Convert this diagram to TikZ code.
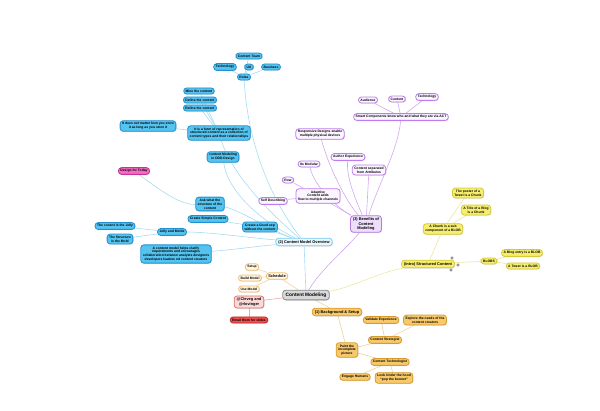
\documentclass[tikz,border=0pt]{standalone}
\usepackage{fontspec}
\setmainfont{Liberation Sans}
\usetikzlibrary{shadows,backgrounds}
\definecolor{bfill}{HTML}{55C3F0}
\definecolor{bdraw}{HTML}{2090D0}
\definecolor{bedge}{HTML}{A6DCF4}
\definecolor{lbfill}{HTML}{E8F7FD}
\definecolor{lbdraw}{HTML}{7CCBF0}
\definecolor{pkfill}{HTML}{F26DC2}
\definecolor{pkdraw}{HTML}{C8329A}
\definecolor{pfill}{HTML}{FBF5FF}
\definecolor{pdraw}{HTML}{BE7CF0}
\definecolor{pedge}{HTML}{D4A6F2}
\definecolor{ppfill}{HTML}{EEDDFB}
\definecolor{ppdraw}{HTML}{B07CE0}
\definecolor{yfill}{HTML}{F6EE6E}
\definecolor{ydraw}{HTML}{D6C83A}
\definecolor{yedge}{HTML}{EEE6A0}
\definecolor{ofill}{HTML}{F7C96A}
\definecolor{odraw}{HTML}{D99B2B}
\definecolor{oedge}{HTML}{EED29A}
\definecolor{lofill}{HTML}{FFF6E6}
\definecolor{lodraw}{HTML}{F0C070}
\definecolor{gfill}{HTML}{D9D9D9}
\definecolor{gdraw}{HTML}{8C8C8C}
\definecolor{rlfill}{HTML}{FCD9D9}
\definecolor{rldraw}{HTML}{E07070}
\definecolor{rfill}{HTML}{EE5050}
\definecolor{rdraw}{HTML}{C02828}
\definecolor{redge}{HTML}{F0A8A8}
\tikzset{
  base/.style={rounded corners=3pt, line width=0.8pt, inner xsep=2pt, inner ysep=1.8pt,
    align=center, font=\fontsize{3.35}{3.85}\selectfont\bfseries,
    drop shadow={opacity=0.25, shadow xshift=0.7pt, shadow yshift=-0.7pt}},
  lvl/.style={base, font=\fontsize{3.9}{4.5}\selectfont\bfseries, inner xsep=2.5pt, inner ysep=2pt},
  bnode/.style={base, fill=bfill, draw=bdraw},
  lbnode/.style={lvl, fill=lbfill, draw=lbdraw},
  pknode/.style={base, fill=pkfill, draw=pkdraw},
  pnode/.style={base, fill=pfill, draw=pdraw},
  ppnode/.style={lvl, fill=ppfill, draw=ppdraw},
  ynode/.style={base, fill=yfill, draw=ydraw},
  yynode/.style={lvl, fill=yfill, draw=ydraw},
  onode/.style={base, fill=ofill, draw=odraw},
  oonode/.style={lvl, fill=ofill, draw=odraw},
  lonode/.style={base, fill=lofill, draw=lodraw},
  gnode/.style={lvl, font=\fontsize{4.8}{5.5}\selectfont\bfseries, inner xsep=3pt, inner ysep=2.6pt, fill=gfill, draw=gdraw},
  rlnode/.style={lvl, fill=rlfill, draw=rldraw},
  rnode/.style={base, fill=rfill, draw=rdraw},
  be/.style={draw=bedge, line width=0.6pt},
  pe/.style={draw=pedge, line width=0.6pt},
  ye/.style={draw=yedge, line width=0.6pt},
  oe/.style={draw=oedge, line width=0.6pt},
  re/.style={draw=redge, line width=0.6pt},
  handle/.style={circle, fill=gray!70, draw=gray, line width=0.3pt, inner sep=0pt, minimum size=2.6pt}
}
\begin{document}
\begin{tikzpicture}[x=1pt,y=-1pt]
\useasboundingbox (0,0) rectangle (600,410);
% blue branch
\node[bnode] (team) at (249,56) {Content Team};
\node[bnode] (techa) at (225,67) {Technology};
\node[bnode] (ux) at (249,67) {UX};
\node[bnode] (bus) at (271,67) {Business};
\node[bnode] (roles) at (244,77) {Roles};
\node[bnode] (mine) at (199,91) {Mine the content};
\node[bnode] (define) at (200,100) {Define the content};
\node[bnode] (refine) at (200,108) {Refine the content};
\node[bnode] (form) at (219,133) {It is a form of representation of\\structured content as a collection of\\content types and their relationships};
\node[bnode] (store) at (148,126) {It does not matter how you store\\it as long as you store it};
\node[bnode] (ddd) at (223,157) {content Modeling\\in DDD Design};
\node[pknode] (today) at (134,171) {Design for Today};
\node[bnode] (ask) at (210,204) {Ask what the\\structure of the\\content};
\node[bnode] (simple) at (208,219) {Create Simple Content};
\node[bnode] (goodexp) at (260,227) {Create a Good exp\\without the content};
\node[lbnode] (two) at (304,242) {(2) Content Model Overview};
\node[bnode] (jellyc) at (115,226) {The conent is the Jelly};
\node[bnode] (mold) at (120,239) {The Structure\\is the Mold};
\node[bnode] (jelly) at (172,232) {Jelly and Molds};
\node[bnode] (helps) at (176,254) {A content model helps clarify\\requirements and encourages\\collaboration between analysts designers\\developers leaders nd content creators};
% purple branch
\node[pnode] (aud) at (368,100) {Audience};
\node[pnode] (cont) at (397,99) {Content};
\node[pnode] (techb) at (427,97) {Technology};
\node[pnode] (smart) at (401,117) {Smart Components know who and what they are via ACT};
\node[pnode] (resp) at (320,134) {Responsive Designs enable\\multiple physical devices};
\node[pnode] (author) at (348,157) {Author Experience};
\node[pnode] (modular) at (309,164) {Its Modular};
\node[pnode] (sep) at (369,170) {Content separated\\from Attributes};
\node[pnode] (row) at (288,180) {Row};
\node[pnode] (selfd) at (273,201) {Self Describing};
\node[pnode] (adapt) at (318,196) {Adaptive\\Content adds\\flow to multiple channels};
\node[ppnode] (three) at (366,224) {(3) Benefits of\\Content\\Modeling};
% yellow branch
\node[ynode] (poster) at (468,193) {The poster of a\\Tweet is a Chunk};
\node[ynode] (title) at (476,210) {A Title of a Blog\\is a Chunk};
\node[ynode] (chunk) at (443,229) {A Chunk is a sub\\component of a BLOB};
\node[yynode] (intro) at (428,264) {(Intro) Structured Content};
\node[ynode] (blobs) at (489,261) {BLOBS};
\node[ynode] (blog) at (522,253) {A Blog entry is a BLOB};
\node[ynode] (tweet) at (523,266) {A Tweet is a BLOB};
\node[handle] (h1) at (452,258) {};
\node[handle] (h2) at (458,265) {};
\node[handle] (h3) at (451,270) {};
% orange / centre
\node[lonode] (setup) at (252,267) {Setup};
\node[lonode] (build) at (250,278) {Build Model};
\node[lonode] (use) at (249,289) {Use Model};
\node[lonode, font=\fontsize{3.9}{4.5}\selectfont\bfseries] (sched) at (277,276) {Schedule};
\node[gnode] (center) at (306,295) {Content Modeling};
\node[rlnode] (cleveg) at (249,302) {@Cleveg and\\@rlovinger};
\node[rnode] (email) at (249,320) {Email them for slides};
\node[oonode] (one) at (337,312) {(1) Background \& Setup};
\node[onode] (valid) at (381,320) {Validate Experience};
\node[onode] (explore) at (425,320) {Explore the needs of the\\content creators};
\node[onode] (strat) at (385,340) {Content Strategist};
\node[onode] (paint) at (347,350) {Paint the\\incomplete\\picture};
\node[onode] (techn) at (390,362) {Content Technologist};
\node[onode] (engage) at (355,377) {Engage Humans};
\node[onode] (look) at (394,378) {Look Under the hood\\``pop the bonnet''};
\begin{scope}[on background layer]
% blue edges
\draw[be] (center) -- (two);
\draw[be] (two) .. controls (275,205) and (248,150) .. (roles);
\draw[be] (two) .. controls (272,215) and (232,175) .. (form);
\draw[be] (two) .. controls (268,225) and (228,195) .. (ddd);
\draw[be] (two) .. controls (270,230) and (240,210) .. (ask);
\draw[be] (two) -- (goodexp);
\draw[be] (goodexp) -- (simple);
\draw[be] (two) .. controls (250,238) and (210,232) .. (jelly);
\draw[be] (two) .. controls (260,246) and (230,250) .. (helps);
\draw[be] (today) .. controls (160,190) and (180,205) .. (ask);
\draw[be] (jelly) -- (jellyc);
\draw[be] (jelly) -- (mold);
\draw[be] (roles) -- (team);
\draw[be] (roles) -- (techa);
\draw[be] (roles) -- (ux);
\draw[be] (roles) -- (bus);
\draw[be] (form) -- (mine);
\draw[be] (form) -- (define);
\draw[be] (form) -- (refine);
\draw[be] (form) -- (store);
% purple edges
\draw[pe] (center) .. controls (320,270) and (350,245) .. (three);
\draw[pe] (three) .. controls (378,185) and (398,150) .. (smart);
\draw[pe] (three) .. controls (345,200) and (328,165) .. (resp);
\draw[pe] (three) .. controls (356,200) and (346,178) .. (author);
\draw[pe] (three) .. controls (338,208) and (315,188) .. (modular);
\draw[pe] (three) -- (sep);
\draw[pe] (three) -- (adapt);
\draw[pe] (adapt) -- (row);
\draw[pe] (adapt) -- (selfd);
\draw[pe] (smart) -- (aud);
\draw[pe] (smart) -- (cont);
\draw[pe] (smart) -- (techb);
% yellow edges
\draw[ye] (center) .. controls (350,288) and (380,272) .. (intro);
\draw[ye] (intro) -- (chunk);
\draw[ye] (chunk) -- (poster);
\draw[ye] (chunk) -- (title);
\draw[ye] (intro) -- (blobs);
\draw[ye] (blobs) -- (blog);
\draw[ye] (blobs) -- (tweet);
% orange edges
\draw[oe] (center) -- (one);
\draw[oe] (one) -- (paint);
\draw[oe] (paint) -- (strat);
\draw[oe] (paint) -- (techn);
\draw[oe] (strat) -- (valid);
\draw[oe] (strat) -- (explore);
\draw[oe] (techn) -- (engage);
\draw[oe] (techn) -- (look);
\draw[oe] (center) -- (sched);
\draw[oe] (sched) -- (setup);
\draw[oe] (sched) -- (build);
\draw[oe] (sched) -- (use);
\draw[re] (center) -- (cleveg);
\draw[re] (cleveg) -- (email);
\end{scope}
\end{tikzpicture}
\end{document}
